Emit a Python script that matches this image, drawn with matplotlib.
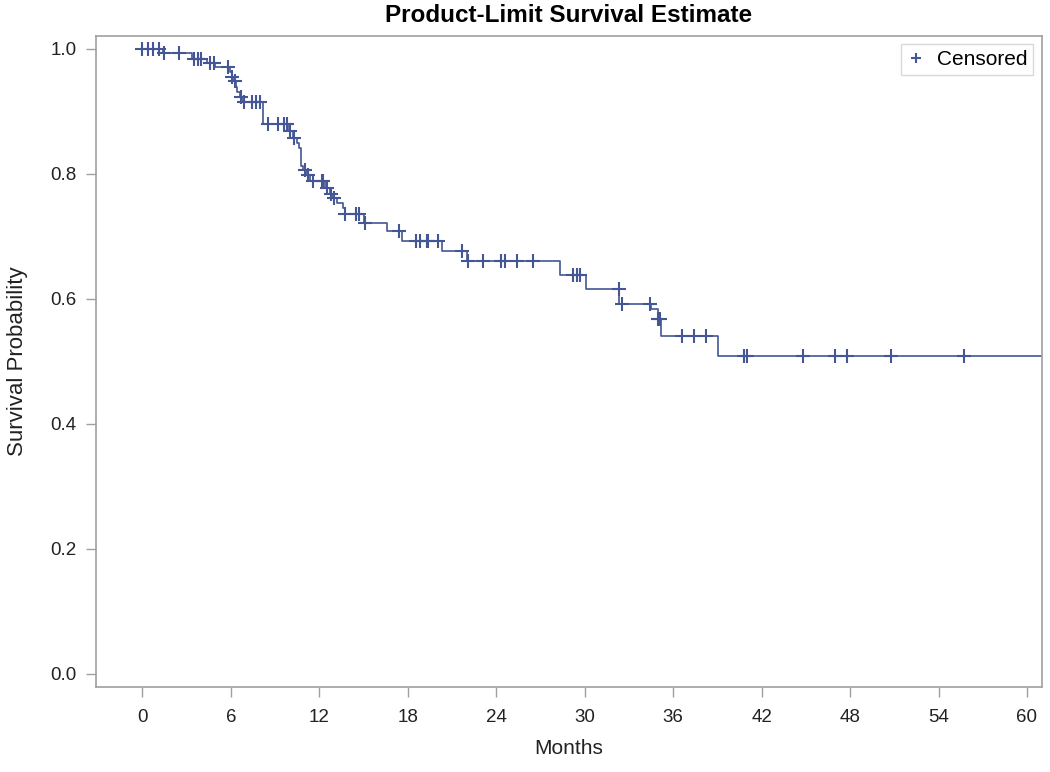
import numpy as np
import matplotlib.pyplot as plt

# %% data --------------------------------------------------------------------
# step times (months) and survival after each step
step_months = [0.0, 1.4, 3.35, 4.35, 4.9, 5.94, 6.05, 6.16, 6.34, 6.4, 6.6, 6.84,
               8.2, 9.9, 10.2, 10.46, 10.64, 10.75, 10.9, 11.16, 11.36, 12.4,
               12.7, 12.9, 13.2, 13.6, 13.74, 15.0, 16.6, 17.6, 20.3, 22.0,
               28.3, 30.1, 32.35, 34.5, 34.95, 35.2, 39.06]
step_surv = [1.0, 0.9925, 0.984, 0.977, 0.970, 0.962, 0.955, 0.948, 0.938, 0.930,
             0.922, 0.914, 0.879, 0.868, 0.857, 0.849, 0.841, 0.812, 0.806, 0.798,
             0.788, 0.777, 0.768, 0.761, 0.753, 0.745, 0.735, 0.721, 0.709, 0.692,
             0.676, 0.660, 0.638, 0.616, 0.592, 0.583, 0.567, 0.540, 0.508]
last_month = 61.0

censor_months = [0.0, 0.4, 0.73, 1.14, 1.45, 2.48, 3.49, 3.79, 4.0, 4.58, 4.85, 5.82,
                 6.1, 6.3, 6.7, 6.9, 7.4, 7.7, 7.97, 8.54, 9.2, 9.6, 9.78, 10.0,
                 10.3, 11.0, 11.2, 11.6, 12.16, 12.27, 12.5, 12.8, 13.0, 13.74,
                 14.5, 14.7, 15.1, 17.4, 18.55, 18.8, 19.3, 19.4, 20.07, 21.65,
                 22.1, 23.1, 24.3, 24.6, 25.4, 26.5, 29.2, 29.45, 29.7, 32.3, 32.5,
                 34.4, 34.95, 35.1, 36.6, 37.4, 38.2, 40.8, 41.03, 44.8, 47.0,
                 47.8, 50.8, 55.7]

x_ticks = list(range(0, 61, 6))
y_ticks = [0.0, 0.2, 0.4, 0.6, 0.8, 1.0]

# %% plot --------------------------------------------------------------------
plt.rcParams["font.family"] = ["Liberation Sans", "DejaVu Sans"]
blue = "#445694"
grey = "#a0a0a0"
txt = "#222222"

fig = plt.figure(figsize=(10.5, 7.72), dpi=100)
ax = fig.add_axes([0.0914, 0.110, 0.9007, 0.844])

xs = np.array(step_months + [last_month])
ys = np.array(step_surv + [step_surv[-1]])
ax.step(xs, ys, where="post", color=blue, lw=1.2)

# censor marks sit on the curve
idx = np.searchsorted(np.array(step_months), np.array(censor_months), side="right") - 1
cens_y = np.array(step_surv)[idx]
ax.plot(censor_months, cens_y, ls="none", marker="+", color=blue, ms=9.5, mew=1.5,
        label="Censored")

ax.set_xlim(-3.15, 61.0)
ax.set_ylim(-0.021, 1.021)
ax.set_xticks(x_ticks)
ax.set_yticks(y_ticks)
ax.set_yticklabels([f"{v:.1f}" for v in y_ticks])

for s in ax.spines.values():
    s.set_color(grey)
    s.set_linewidth(1.2)
ax.tick_params(colors=grey, labelcolor=txt, labelsize=13.5, length=7, width=1.0,
               pad=7)
ax.tick_params(axis="x", pad=9)

ax.set_xlabel("Months", fontsize=15, color=txt, labelpad=9)
ax.set_ylabel("Survival Probability", fontsize=16, color=txt, labelpad=16)
ax.set_title("Product-Limit Survival Estimate", fontsize=17.5, fontweight="bold",
             pad=10)

leg = ax.legend(loc="upper right", fontsize=15, frameon=True, fancybox=False,
                handlelength=0.8, handletextpad=0.6, borderpad=0.3,
                borderaxespad=0.4, markerscale=0.75)
leg.get_frame().set_edgecolor("#d0d0d0")
leg.get_frame().set_linewidth(1.0)

fig.savefig("out.png", dpi=100)
